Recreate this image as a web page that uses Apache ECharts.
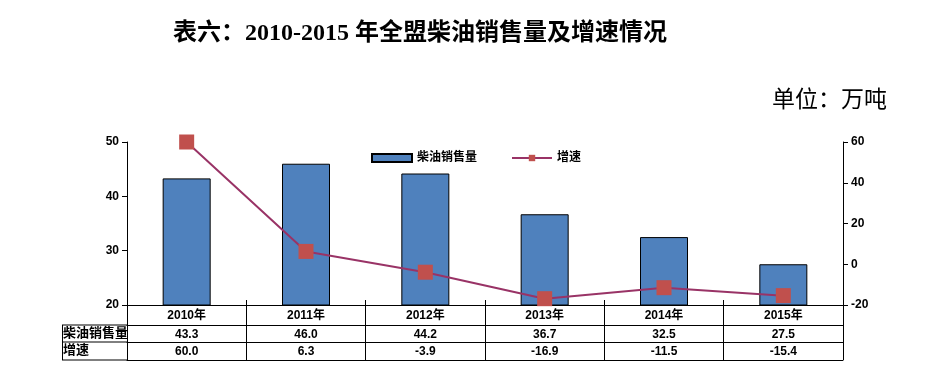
<!DOCTYPE html>
<html><head><meta charset="utf-8">
<script src="https://cdn.jsdelivr.net/npm/echarts@6/dist/echarts.min.js"></script>
<style>html,body{margin:0;padding:0;background:#fff}#c{width:940px;height:380px}</style>
</head><body><div id="c"></div>
<script>
var categories = ['2010年','2011年','2012年','2013年','2014年','2015年'];
var sales = [43.3, 46.0, 44.2, 36.7, 32.5, 27.5];
var growth = [60.0, 6.3, -3.9, -16.9, -11.5, -15.4];
var leftTicks = {min: 20, max: 50, interval: 10};
var rightTicks = {min: -20, max: 60, interval: 20};
var rowHeaders = ['柴油销售量', '增速'];

var FONT = 'Liberation Sans, "Noto Sans CJK SC", sans-serif';
var txt = {color: '#000', fontWeight: 'bold', fontSize: 12, fontFamily: FONT};

var chart = echarts.init(document.getElementById('c'), null, {renderer: 'canvas'});
var L = 127, R = 843;
function tableAxis(offset, labels) {
  return {
    type: 'category', data: categories, position: 'bottom', offset: offset,
    axisLine: {show: true, onZero: false, lineStyle: {color: '#000', width: 1}},
    axisTick: {show: false},
    axisLabel: labels ? Object.assign({margin: 4, interval: 0, formatter: function (v, i) { return labels[i].toFixed(1); }}, txt) : {show: false},
    splitLine: {show: false}
  };
}
chart.setOption({
  animation: false,
  backgroundColor: '#fff',
  title: [{
    text: '表六：2010-2015 年全盟柴油销售量及增速情况',
    left: 168, top: 17,
    textStyle: {fontSize: 24, fontWeight: 'bold', color: '#000', fontFamily: '"Liberation Serif", "Noto Sans CJK SC", serif'}
  }, {
    text: '单位：万吨',
    left: 767, top: 84,
    textStyle: {fontSize: 23, fontWeight: 'normal', color: '#000', fontFamily: '"Liberation Serif", "Noto Sans CJK SC", serif'}
  }],
  legend: {
    left: 366, top: 147, itemWidth: 40, itemHeight: 8, itemGap: 34,
    textStyle: txt,
    data: [{name: '柴油销售量', icon: 'rect'}, {name: '增速'}]
  },
  grid: {left: L, right: 940 - R, top: 142, bottom: 75},
  xAxis: [
    {type: 'category', data: categories, position: 'bottom',
     axisLine: {show: true, onZero: false, lineStyle: {color: '#000', width: 1}},
     axisTick: {show: true, inside: true, length: 5, lineStyle: {color: '#000'}},
     axisLabel: Object.assign({margin: 5, interval: 0}, txt)},
    {type: 'category', data: categories, position: 'bottom',
     axisLine: {show: false, onZero: false}, axisTick: {show: true, length: 55, lineStyle: {color: '#000'}},
     axisLabel: {show: false}},
    tableAxis(20, sales),
    tableAxis(37, growth),
    tableAxis(55, null)
  ],
  yAxis: [
    {type: 'value', min: leftTicks.min, max: leftTicks.max, interval: leftTicks.interval,
     axisLine: {show: true, lineStyle: {color: '#000'}}, axisTick: {show: true, length: 5, lineStyle: {color: '#000'}},
     axisLabel: Object.assign({margin: 8}, txt), splitLine: {show: false}},
    {type: 'value', min: rightTicks.min, max: rightTicks.max, interval: rightTicks.interval, position: 'right',
     axisLine: {show: true, lineStyle: {color: '#000'}}, axisTick: {show: true, length: 5, lineStyle: {color: '#000'}},
     axisLabel: Object.assign({margin: 8}, txt), splitLine: {show: false}}
  ],
  graphic: [
    {type: 'line', shape: {x1: 62, y1: 325, x2: L, y2: 325}, style: {stroke: '#000', lineWidth: 1}},
    {type: 'line', shape: {x1: 62, y1: 342, x2: L, y2: 342}, style: {stroke: '#000', lineWidth: 1}},
    {type: 'line', shape: {x1: 62, y1: 360, x2: L, y2: 360}, style: {stroke: '#000', lineWidth: 1}},
    {type: 'line', shape: {x1: 62.5, y1: 325, x2: 62.5, y2: 360}, style: {stroke: '#000', lineWidth: 1}},
    {type: 'text', left: 63, top: 327, style: {text: rowHeaders[0], fill: '#000', font: 'bold 13px ' + FONT}},
    {type: 'text', left: 63, top: 344, style: {text: rowHeaders[1], fill: '#000', font: 'bold 13px ' + FONT}}
  ],
  series: [
    {name: '柴油销售量', type: 'bar', xAxisIndex: 0, yAxisIndex: 0, data: sales, barWidth: 48,
     itemStyle: {color: '#4F81BD', borderColor: '#000', borderWidth: 1}},
    {name: '增速', type: 'line', xAxisIndex: 0, yAxisIndex: 1, data: growth,
     symbol: 'rect', symbolSize: 15,
     lineStyle: {color: '#993366', width: 2},
     itemStyle: {color: '#C0504D'}}
  ]
});
</script></body></html>
